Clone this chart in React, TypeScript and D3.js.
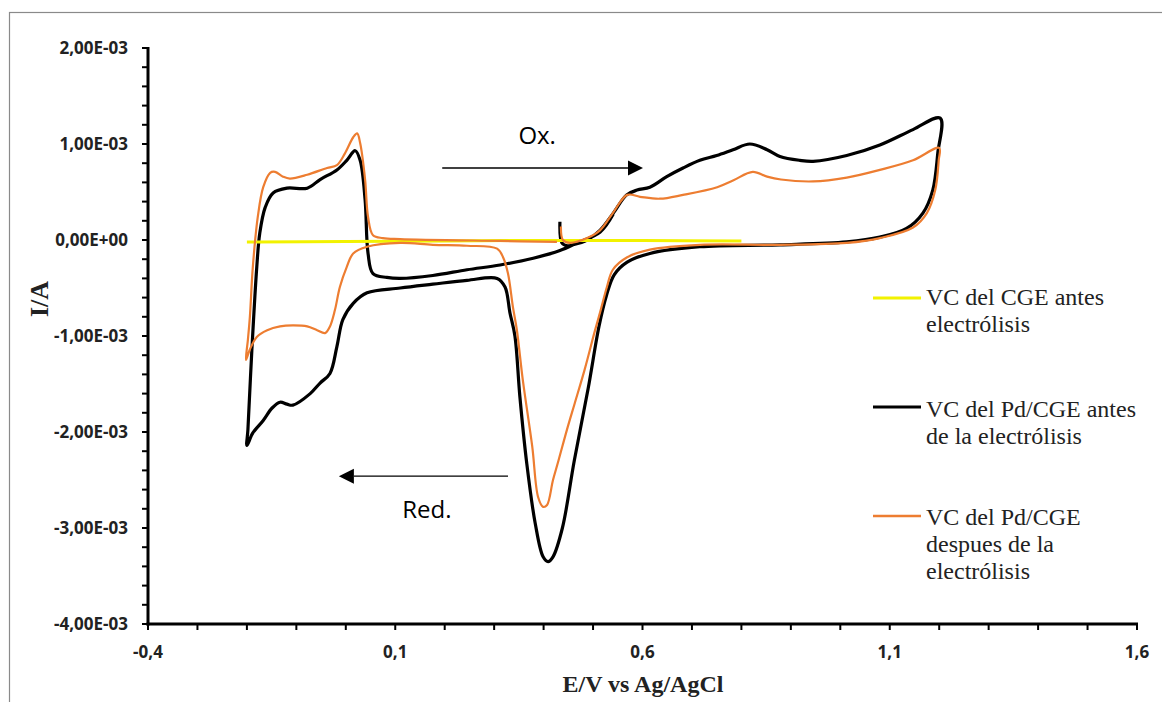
import React from "react";
import * as d3 from "d3";

// ---------- DATA ----------
// Potential (V vs Ag/AgCl) and current (mA)
const yellowE = [-0.2, 0.0, 0.2, 0.4, 0.6, 0.8];
const yellowI = [-0.02, -0.015, -0.01, -0.005, -0.005, -0.01];

const blackE = [
  0.433, 0.437, 0.448, 0.459, 0.488, 0.514, 0.541, 0.568, 0.589, 0.615, 0.649, 0.682, 0.716, 0.75, 0.783, 0.817,
  0.852, 0.878, 0.918, 0.945, 1.013, 1.08, 1.147, 1.202,
  1.197, 1.187, 1.167, 1.134, 1.08, 1.013, 0.878, 0.716, 0.615, 0.569, 0.543, 0.527, 0.512, 0.49, 0.462, 0.438,
  0.419, 0.409, 0.399, 0.383, 0.366, 0.352, 0.342, 0.332, 0.322, 0.306, 0.245, 0.176, 0.11, 0.043, 0.015,
  -0.006, -0.018, -0.032, -0.052, -0.072, -0.107, -0.119, -0.133, -0.149, -0.167, -0.188, -0.2,
  -0.198, -0.19, -0.18, -0.174, -0.163, -0.147, -0.119, -0.078, -0.052, -0.018, 0.002, 0.019, 0.029, 0.039,
  0.045, 0.055, 0.083, 0.11, 0.176, 0.245, 0.312, 0.379, 0.433, 0.468, 0.514, 0.541,
];
const blackI = [
  0.19, -0.03, -0.06, -0.05, 0.0, 0.1, 0.28, 0.47, 0.52, 0.55, 0.66, 0.75, 0.83, 0.88, 0.94, 1.0,
  0.94, 0.87, 0.83, 0.82, 0.88, 0.99, 1.15, 1.27,
  0.9, 0.52, 0.28, 0.12, 0.03, -0.02, -0.05, -0.07, -0.14, -0.23, -0.36, -0.58, -0.9, -1.55, -2.3, -3.0,
  -3.3, -3.35, -3.3, -2.95, -2.33, -1.63, -1.0, -0.76, -0.49, -0.4, -0.42, -0.46, -0.5, -0.55, -0.66,
  -0.83, -1.11, -1.39, -1.49, -1.6, -1.72, -1.71, -1.69, -1.75, -1.88, -2.01, -2.14,
  -1.98, -1.15, -0.28, 0.07, 0.34, 0.49, 0.54, 0.54, 0.63, 0.73, 0.83, 0.93, 0.83, 0.42,
  -0.14, -0.35, -0.39, -0.4, -0.37, -0.31, -0.26, -0.19, -0.11, -0.03, 0.08, 0.27,
];

const orangeE = [
  0.435, 0.439, 0.453, 0.488, 0.514, 0.54, 0.569, 0.595, 0.635, 0.682, 0.751, 0.783, 0.823, 0.852, 0.88,
  0.945, 1.013, 1.08, 1.147, 1.2,
  1.199, 1.192, 1.175, 1.147, 1.08, 1.013, 0.878, 0.716, 0.615, 0.569, 0.54, 0.528, 0.516, 0.503, 0.483,
  0.463, 0.447, 0.43, 0.419, 0.407, 0.399, 0.389, 0.377, 0.358, 0.346, 0.338, 0.328, 0.318, 0.306, 0.245, 0.176,
  0.11, 0.043, 0.015, 0.002, -0.012, -0.022, -0.032, -0.042, -0.058, -0.078, -0.107, -0.133, -0.159, -0.18,
  -0.194, -0.202,
  -0.198, -0.194, -0.188, -0.178, -0.167, -0.153, -0.143, -0.127, -0.113, -0.078, -0.038, -0.018, -0.002,
  0.015, 0.023, 0.029, 0.039, 0.045, 0.055, 0.075, 0.11, 0.312, 0.427,
];
const orangeI = [
  0.14, 0.0, -0.03, 0.02, 0.1, 0.28, 0.47, 0.45, 0.43, 0.47, 0.55, 0.62, 0.71, 0.66, 0.63,
  0.61, 0.65, 0.73, 0.83, 0.96,
  0.83, 0.52, 0.28, 0.13, 0.02, -0.03, -0.05, -0.05, -0.1, -0.18, -0.31, -0.49, -0.72, -0.96, -1.35,
  -1.7, -1.98, -2.3, -2.5, -2.76, -2.78, -2.68, -2.15, -1.46, -0.94, -0.7, -0.35, -0.18, -0.09, -0.06, -0.05,
  -0.03, -0.07, -0.14, -0.28, -0.49, -0.73, -0.9, -0.97, -0.94, -0.9, -0.89, -0.9, -0.94, -1.01,
  -1.14, -1.25,
  -1.04, -0.8, -0.28, 0.24, 0.55, 0.7, 0.71, 0.66, 0.64, 0.68, 0.75, 0.78, 0.9,
  1.07, 1.11, 1.01, 0.63, 0.24, 0.05, 0.02, 0.01, -0.01, -0.02,
];

// axis ticks
const xMajorTicks = [-0.4, 0.1, 0.6, 1.1, 1.6];
const xTickLabels = ["-0,4", "0,1", "0,6", "1,1", "1,6"];
const yMajorTicks = [-4e-3, -3e-3, -2e-3, -1e-3, 0, 1e-3, 2e-3];
const yTickLabels = ["-4,00E-03", "-3,00E-03", "-2,00E-03", "-1,00E-03", "0,00E+00", "1,00E-03", "2,00E-03"];

// legend
const legendLabels = [
  ["VC del CGE antes", "electrólisis"],
  ["VC del Pd/CGE antes", "de la electrólisis"],
  ["VC del Pd/CGE", "despues de la", "electrólisis"],
];

// annotations (data coordinates: E in V, I in mA)
const oxArrow = { from: [0.195, 0.75], to: [0.601, 0.75], label: "Ox.", labelAt: [0.387, 1.0] };
const redArrow = { from: [0.328, -2.46], to: [-0.014, -2.46], label: "Red.", labelAt: [0.164, -2.9] };

// ---------- CHART ----------
const W = 1162;
const H = 702;
const COLORS = { yellow: "#f2f200", black: "#000000", orange: "#ed7d31" };

export default function App() {
  const x = d3.scaleLinear().domain([-0.4, 1.6]).range([148, 1137]);
  const y = d3.scaleLinear().domain([-4e-3, 2e-3]).range([624, 48]);

  const mkPath = (E: number[], I: number[]) =>
    d3
      .line<number>()
      .x((i) => x(E[i]))
      .y((i) => y(I[i] * 1e-3))
      .curve(d3.curveCatmullRom.alpha(0.5))(d3.range(E.length)) || "";

  const xMinor = d3.range(-0.4, 1.6001, 0.1);
  const yMinor = d3.range(-4e-3, 2.0001e-3, 0.2e-3);

  const tickFont = "'Open Sans', sans-serif";
  const serif = "'Liberation Serif', 'Times New Roman', serif";

  const legendItems = [
    { color: COLORS.yellow, width: 3, lineY: 298, base: 305 },
    { color: COLORS.black, width: 3, lineY: 407, base: 417 },
    { color: COLORS.orange, width: 2.5, lineY: 516, base: 525 },
  ];

  const arrow = (a: typeof oxArrow) => {
    const x1 = x(a.from[0]);
    const x2 = x(a.to[0]);
    const yy = y(a.from[1] * 1e-3);
    const dir = x2 > x1 ? 1 : -1;
    const headLen = 15;
    const headHalf = 7.5;
    const base = x2 - dir * headLen;
    return (
      <g>
        <line x1={x1} x2={base} y1={yy} y2={yy} stroke="#000" strokeWidth={1.3} />
        <polygon points={`${x2},${yy} ${base},${yy - headHalf} ${base},${yy + headHalf}`} fill="#000" />
        <text
          x={x(a.labelAt[0])}
          y={y(a.labelAt[1] * 1e-3)}
          textAnchor="middle"
          fontFamily={tickFont}
          fontSize={24}
          fill="#000"
        >
          {a.label}
        </text>
      </g>
    );
  };

  return (
    <div style={{ position: "absolute", left: 0, top: 0, width: W, height: H, background: "#fff" }}>
      <svg width={W} height={H} style={{ display: "block" }}>
        <rect x={0} y={0} width={W} height={H} fill="#fff" />
        <rect x={9.5} y={12.5} width={W + 20} height={H + 20} fill="none" stroke="#8a8a8a" strokeWidth={1.2} />

        {/* series */}
        <path d={mkPath(blackE, blackI)} fill="none" stroke={COLORS.black} strokeWidth={3.2} strokeLinejoin="round" />
        <path d={mkPath(yellowE, yellowI)} fill="none" stroke={COLORS.yellow} strokeWidth={3} />
        <path d={mkPath(orangeE, orangeI)} fill="none" stroke={COLORS.orange} strokeWidth={2.2} strokeLinejoin="round" />

        {/* axes */}
        <g stroke="#000" strokeWidth={2}>
          {yMinor.map((v, i) => (
            <line key={"ym" + i} x1={x(-0.4) - 6} x2={x(-0.4)} y1={y(v)} y2={y(v)} />
          ))}
          {xMinor.map((v, i) => (
            <line key={"xm" + i} x1={x(v)} x2={x(v)} y1={y(-4e-3)} y2={y(-4e-3) + 6} />
          ))}
        </g>
        <line x1={x(-0.4)} x2={x(-0.4)} y1={y(2e-3) - 1} y2={y(-4e-3) + 1.5} stroke="#000" strokeWidth={3} />
        <line x1={x(-0.4) - 1.5} x2={x(1.6) + 1} y1={y(-4e-3)} y2={y(-4e-3)} stroke="#000" strokeWidth={3} />

        {yMajorTicks.map((v, i) => (
          <text
            key={"yl" + i}
            x={128}
            y={y(v)}
            dy="0.36em"
            textAnchor="end"
            fontFamily={tickFont}
            fontWeight="bold"
            fontSize={17}
            fill="#222"
          >
            {yTickLabels[i]}
          </text>
        ))}
        {xMajorTicks.map((v, i) => (
          <text
            key={"xl" + i}
            x={x(v)}
            y={658}
            textAnchor="middle"
            fontFamily={tickFont}
            fontWeight="bold"
            fontSize={17}
            fill="#222"
          >
            {xTickLabels[i]}
          </text>
        ))}

        {/* axis titles */}
        <text x={643} y={692} textAnchor="middle" fontFamily={serif} fontWeight="bold" fontSize={24} fill="#222">
          E/V vs Ag/AgCl
        </text>
        <text
          transform="translate(48,299) rotate(-90)"
          textAnchor="middle"
          fontFamily={serif}
          fontWeight="bold"
          fontSize={26}
          fill="#222"
        >
          I/A
        </text>

        {/* annotations */}
        {arrow(oxArrow)}
        {arrow(redArrow)}

        {/* legend */}
        {legendItems.map((it, i) => (
          <g key={"lg" + i}>
            <line x1={873} x2={921} y1={it.lineY} y2={it.lineY} stroke={it.color} strokeWidth={it.width} />
            {legendLabels[i].map((t, j) => (
              <text
                key={j}
                x={926}
                y={it.base + j * 27}
                fontFamily={serif}
                fontSize={24}
                fill="#222"
              >
                {t}
              </text>
            ))}
          </g>
        ))}
      </svg>
    </div>
  );
}
